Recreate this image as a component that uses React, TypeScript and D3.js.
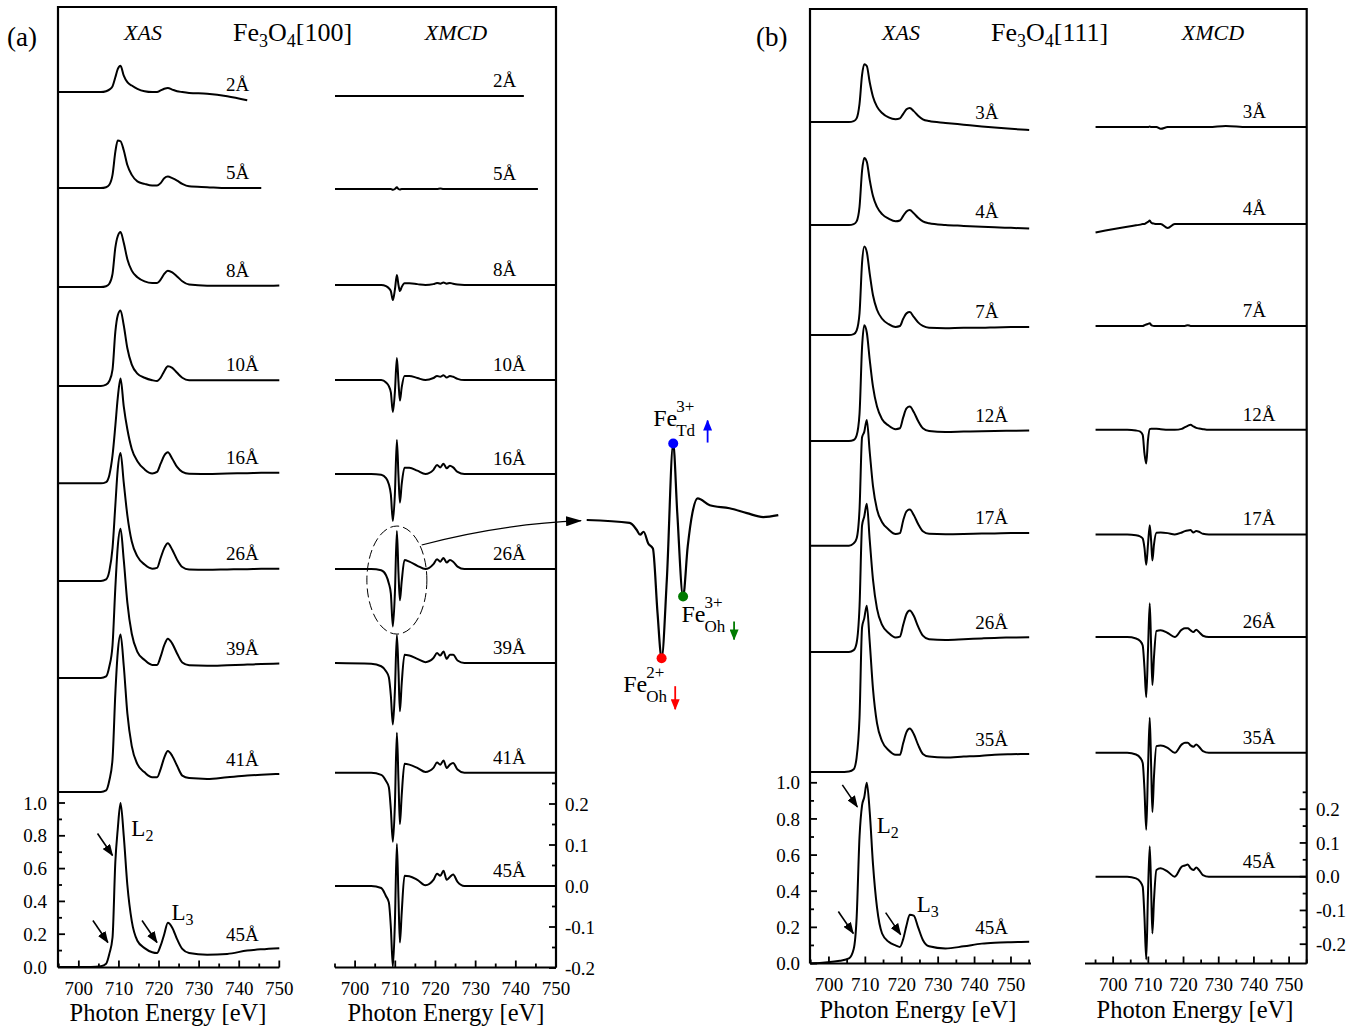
import React from "react";
import * as d3 from "d3";

const FONT = "'Liberation Serif', 'Times New Roman', Times, serif";

// energy grids [eV] shared by the stacked spectra
const xasEnergy = [695, 703, 705.5, 706.8, 707.6, 708.4, 709.1, 709.7, 710.4, 711.2, 712.1, 713.2, 714.6, 716.4, 718.3, 719.5, 720.4, 721.3, 722.2, 723.3, 724.5, 725.8, 727.5, 732, 737, 742, 745.5, 750, 755];
const xmcdEnergy = [695, 704, 706.5, 707.7, 708.4, 708.9, 709.4, 709.9, 710.4, 710.8, 711.15, 711.6, 712.3, 713.5, 715.5, 717.5, 719.5, 720.4, 721.2, 722, 722.8, 723.6, 724.4, 725.5, 727.2, 732, 738, 742, 745.5, 750, 755];

// ---------- panel (a) Fe3O4[100]
const thicknessA = ["2Å", "5Å", "8Å", "10Å", "16Å", "26Å", "39Å", "41Å", "45Å"];
const xasOffsetA = [5.335, 4.75, 4.146, 3.543, 2.949, 2.354, 1.762, 1.067, 0];
const xmcdOffsetA = [1.927, 1.7, 1.466, 1.234, 1.005, 0.773, 0.544, 0.276, 0];

const xasA02 = [0, 0, 0, 0.005, 0.015, 0.035, 0.09, 0.14, 0.16, 0.1, 0.06, 0.04, 0.02, 0.005, 0, 0, 0.01, 0.02, 0.025, 0.015, 0.005, 0, -0.005, -0.01, -0.025, -0.05, null, null, null];
const xasA05 = [0, 0, 0, 0.005, 0.02, 0.08, 0.22, 0.29, 0.285, 0.23, 0.14, 0.08, 0.04, 0.025, 0.015, 0.015, 0.03, 0.06, 0.07, 0.06, 0.045, 0.025, 0.01, 0.005, 0, 0, 0, null, null];
const xasA08 = [0, 0, 0, 0.005, 0.02, 0.08, 0.24, 0.31, 0.335, 0.27, 0.17, 0.1, 0.06, 0.035, 0.025, 0.025, 0.045, 0.08, 0.1, 0.09, 0.065, 0.035, 0.015, 0.008, 0.008, 0.008, 0.008, 0.01, null];
const xasA10 = [0, 0, 0, 0.008, 0.03, 0.1, 0.33, 0.43, 0.46, 0.37, 0.23, 0.13, 0.075, 0.05, 0.035, 0.03, 0.05, 0.09, 0.12, 0.11, 0.08, 0.05, 0.035, 0.035, 0.035, 0.035, 0.035, 0.035, null];
const xasA16 = [0, 0, 0, 0.008, 0.05, 0.17, 0.35, 0.52, 0.64, 0.47, 0.33, 0.21, 0.135, 0.085, 0.06, 0.07, 0.12, 0.17, 0.19, 0.15, 0.1, 0.07, 0.058, 0.057, 0.06, 0.062, 0.064, 0.065, null];
const xasA26 = [0, 0, 0, 0.01, 0.06, 0.2, 0.46, 0.68, 0.78, 0.6, 0.4, 0.24, 0.15, 0.1, 0.075, 0.08, 0.14, 0.2, 0.23, 0.19, 0.13, 0.085, 0.07, 0.068, 0.07, 0.072, 0.074, 0.075, null];
const xasA39 = [0, 0, 0, 0.01, 0.07, 0.2, 0.55, 0.8, 0.91, 0.72, 0.46, 0.27, 0.16, 0.11, 0.08, 0.08, 0.13, 0.2, 0.24, 0.21, 0.15, 0.095, 0.078, 0.075, 0.078, 0.082, 0.085, 0.088, null];
const xasA41 = [0, 0, 0, 0.01, 0.07, 0.2, 0.6, 0.85, 0.96, 0.77, 0.48, 0.28, 0.17, 0.12, 0.09, 0.09, 0.14, 0.21, 0.25, 0.22, 0.16, 0.1, 0.085, 0.08, 0.09, 0.1, 0.105, 0.11, null];
const xasA45 = [0, 0, 0.005, 0.02, 0.08, 0.18, 0.64, 0.84, 1.0, 0.8, 0.5, 0.28, 0.16, 0.115, 0.09, 0.085, 0.13, 0.2, 0.27, 0.24, 0.17, 0.11, 0.085, 0.075, 0.08, 0.1, 0.108, 0.115, null];
const xasA = [xasA02, xasA05, xasA08, xasA10, xasA16, xasA26, xasA39, xasA41, xasA45];

const xmcdA02 = [0, 0, 0, 0, 0, 0, 0, 0, 0, 0, 0, 0, 0, 0, 0, 0, 0, 0, 0, 0, 0, 0, 0, 0, 0, 0, 0, 0, null, null, null];
const xmcdA05 = [0, 0, 0, 0, 0, 0, -0.002, 0, 0.004, 0, -0.001, 0, 0, 0, 0, 0, 0, 0, 0.001, 0, 0, 0, 0, 0, 0, 0, 0, 0, 0, null, null];
const xmcdA08 = [0, 0, 0, -0.003, -0.008, -0.015, -0.037, -0.012, 0.024, 0, -0.015, -0.005, 0.004, 0.004, 0.002, 0, 0.002, 0.005, 0.003, 0.006, 0.003, 0.005, 0.003, 0.001, 0, 0, 0, 0, 0, 0, null];
const xmcdA10 = [0, 0, 0, -0.006, -0.015, -0.03, -0.078, -0.03, 0.054, -0.005, -0.05, -0.018, 0.01, 0.01, 0.005, 0, 0.005, 0.01, 0.008, 0.012, 0.006, 0.01, 0.008, 0.003, 0, 0, 0, 0, 0, 0, null];
const xmcdA16 = [0, 0, -0.002, -0.01, -0.025, -0.05, -0.115, -0.05, 0.083, -0.005, -0.07, -0.025, 0.015, 0.015, 0.008, 0, 0.01, 0.022, 0.016, 0.025, 0.014, 0.02, 0.016, 0.005, 0, 0, 0, 0, 0, 0, null];
const xmcdA26 = [0, 0, -0.003, -0.015, -0.035, -0.06, -0.14, -0.06, 0.093, -0.01, -0.076, -0.03, 0.022, 0.018, 0.008, 0, 0.012, 0.024, 0.018, 0.027, 0.016, 0.022, 0.018, 0.006, 0, 0, 0, 0, 0, 0, null];
const xmcdA39 = [0, -0.002, -0.008, -0.02, -0.035, -0.08, -0.15, -0.07, 0.068, -0.02, -0.118, -0.05, 0.02, 0.018, 0.01, 0.002, 0.012, 0.024, 0.018, 0.028, 0.01, 0.02, 0.02, 0.006, 0, 0, 0, 0, 0, 0, null];
const xmcdA41 = [0, 0, -0.005, -0.02, -0.035, -0.09, -0.168, -0.08, 0.098, -0.02, -0.125, -0.055, 0.022, 0.02, 0.012, 0.002, 0.012, 0.025, 0.02, 0.03, 0.012, 0.02, 0.024, 0.008, 0, 0, 0, 0, 0, 0, null];
const xmcdA45 = [0, 0, -0.005, -0.025, -0.04, -0.1, -0.197, -0.09, 0.103, -0.03, -0.138, -0.065, 0.025, 0.024, 0.015, 0.002, 0.015, 0.03, 0.025, 0.037, 0.015, 0.022, 0.028, 0.01, 0, 0, 0, 0, 0, 0, null];
const xmcdA = [xmcdA02, xmcdA05, xmcdA08, xmcdA10, xmcdA16, xmcdA26, xmcdA39, xmcdA41, xmcdA45];

// ---------- panel (b) Fe3O4[111]
const thicknessB = ["3Å", "4Å", "7Å", "12Å", "17Å", "26Å", "35Å", "45Å"];
const xasOffsetB = [4.657, 4.087, 3.478, 2.892, 2.312, 1.724, 1.06, 0];
const xmcdOffsetB = [2.221, 1.934, 1.632, 1.324, 1.014, 0.71, 0.367, 0];

const xasB03 = [0, 0, 0, 0.005, 0.02, 0.1, 0.26, 0.32, 0.31, 0.22, 0.14, 0.085, 0.05, 0.025, 0.015, 0.02, 0.045, 0.07, 0.078, 0.06, 0.035, 0.015, 0.005, -0.005, -0.015, -0.025, -0.031, -0.038, -0.044];
const xasB04 = [0, 0, 0, 0.005, 0.02, 0.1, 0.3, 0.37, 0.35, 0.25, 0.16, 0.1, 0.06, 0.035, 0.02, 0.025, 0.05, 0.075, 0.083, 0.065, 0.04, 0.02, 0.01, 0, -0.005, -0.01, -0.013, -0.016, -0.02];
const xasB07 = [0, 0, 0, 0.005, 0.025, 0.12, 0.4, 0.49, 0.46, 0.34, 0.22, 0.14, 0.09, 0.06, 0.045, 0.05, 0.09, 0.12, 0.127, 0.1, 0.07, 0.05, 0.04, 0.038, 0.04, 0.04, 0.042, 0.044, 0.045];
const xasB12 = [0, 0, 0, 0.005, 0.03, 0.15, 0.52, 0.64, 0.6, 0.45, 0.3, 0.19, 0.12, 0.085, 0.065, 0.07, 0.13, 0.18, 0.19, 0.16, 0.11, 0.07, 0.055, 0.05, 0.052, 0.054, 0.055, 0.056, 0.058];
const xasB17 = [0, 0, 0, 0.013, 0.04, 0.2, 0.6, 0.63, 0.696, 0.52, 0.33, 0.2, 0.13, 0.09, 0.065, 0.07, 0.14, 0.19, 0.2, 0.17, 0.12, 0.08, 0.066, 0.064, 0.065, 0.067, 0.068, 0.07, 0.07];
const xasB26 = [0, 0, 0, 0.01, 0.05, 0.25, 0.7, 0.75, 0.82, 0.62, 0.4, 0.24, 0.15, 0.105, 0.08, 0.085, 0.15, 0.21, 0.23, 0.2, 0.14, 0.09, 0.07, 0.066, 0.07, 0.075, 0.078, 0.08, 0.082];
const xasB35 = [0, 0, 0.003, 0.015, 0.08, 0.3, 0.8, 0.85, 0.92, 0.72, 0.46, 0.27, 0.17, 0.12, 0.095, 0.095, 0.16, 0.22, 0.24, 0.21, 0.15, 0.1, 0.085, 0.08, 0.085, 0.09, 0.095, 0.098, 0.1];
const xasB45 = [0, 0.015, 0.028, 0.08, 0.25, 0.7, 0.875, 0.92, 1.0, 0.84, 0.55, 0.31, 0.166, 0.12, 0.1, 0.092, 0.135, 0.21, 0.27, 0.265, 0.2, 0.13, 0.095, 0.083, 0.095, 0.11, 0.115, 0.118, 0.12];
const xasB = [xasB03, xasB04, xasB07, xasB12, xasB17, xasB26, xasB35, xasB45];

const xmcdB03 = [0, 0, 0, 0, 0, 0, 0, 0, 0.002, 0, 0, 0, 0, -0.005, 0, 0, 0, 0, 0, 0, 0, 0, 0, 0, 0, 0.003, 0, 0, 0, 0, 0];
const xmcdB04 = [-0.025, -0.008, -0.004, -0.002, 0, 0, 0.003, 0.006, 0.01, 0.004, 0.002, 0.001, 0, 0, -0.012, 0, 0, 0, 0, 0, 0, 0, 0, 0, 0, 0, 0, 0, 0, 0, 0];
const xmcdB07 = [0, 0, 0, 0, 0, 0.002, 0.004, 0.006, 0.008, 0.003, 0.001, 0, 0, 0, 0, 0, 0, 0, 0.002, 0, 0, 0, 0, 0, 0, 0, 0, 0, 0, 0, 0];
const xmcdB12 = [0, 0, -0.002, -0.005, -0.015, -0.07, -0.1, -0.03, 0.002, 0.003, 0.003, 0.003, 0.003, 0.002, 0, 0, 0.003, 0.008, 0.012, 0.015, 0.01, 0.006, 0.004, 0.002, 0, 0, 0, 0, 0, 0, 0];
const xmcdB17 = [0, 0, -0.002, -0.006, -0.012, -0.04, -0.09, -0.03, 0.027, -0.02, -0.077, -0.03, 0.005, 0.006, 0.004, 0, 0.006, 0.01, 0.012, 0.013, 0.006, 0.01, 0.008, 0.002, 0, 0, 0, 0, 0, 0, 0];
const xmcdB26 = [0, 0, -0.004, -0.012, -0.025, -0.09, -0.178, -0.04, 0.1, -0.03, -0.142, -0.06, 0.018, 0.02, 0.012, 0, 0.022, 0.026, 0.026, 0.02, 0.015, 0.022, 0.015, 0.004, 0, 0, 0, 0, 0, 0, 0];
const xmcdB35 = [0, 0, -0.005, -0.015, -0.03, -0.11, -0.228, -0.05, 0.104, -0.04, -0.175, -0.07, 0.02, 0.022, 0.015, 0, 0.025, 0.03, 0.03, 0.022, 0.018, 0.025, 0.018, 0.005, 0, 0, 0, 0, 0, 0, 0];
const xmcdB45 = [0, 0, -0.005, -0.015, -0.03, -0.12, -0.245, -0.05, 0.09, -0.04, -0.168, -0.07, 0.02, 0.025, 0.015, 0, 0.03, 0.033, 0.036, 0.025, 0.02, 0.027, 0.02, 0.005, 0, 0, 0, 0, 0, 0, 0];
const xmcdB = [xmcdB03, xmcdB04, xmcdB07, xmcdB12, xmcdB17, xmcdB26, xmcdB35, xmcdB45];

// ---------- magnified XMCD (26 Å, [100])
const insetEnergy = [703, 706.7, 707.3, 707.6, 707.9, 708.3, 708.7, 709.1, 709.45, 709.9, 710.45, 710.8, 711.3, 711.7, 712.1, 712.55, 713.6, 715.3, 716.8, 718.2, 719.5];
const insetXmcd = [0, -0.003, -0.01, -0.015, -0.012, -0.024, -0.029, -0.095, -0.141, -0.061, 0.078, 0.007, -0.078, -0.027, 0.007, 0.022, 0.015, 0.012, 0.007, 0.003, 0.005];

// ---------- ticks
const energyTicks = [700, 710, 720, 730, 740, 750];
const energyMinor = [695, 705, 715, 725, 735, 745, 755];
const xasTicks = [0, 0.2, 0.4, 0.6, 0.8, 1.0];
const xasMinor = [0.1, 0.3, 0.5, 0.7, 0.9];
const xmcdTicks = [0.2, 0.1, 0, -0.1, -0.2];
const xmcdMinor = [0.25, 0.15, 0.05, -0.05, -0.15];

const BLACK = "#000";

function tracePath(energy, values, offset, x, y) {
  const line = d3
    .line<number>()
    .defined((i) => values[i] !== null)
    .x((i) => x(energy[i]))
    .y((i) => y(values[i] + offset))
    .curve(d3.curveMonotoneX);
  return line(d3.range(energy.length));
}

function valueAt(energy, values, e) {
  const idx = d3.range(energy.length).filter((i) => values[i] !== null);
  const s = d3.scaleLinear().domain(idx.map((i) => energy[i])).range(idx.map((i) => values[i])).clamp(true);
  return s(e);
}

function Stack({ energy, curves, offsets, labels, x, y, labelE }) {
  return (
    <g>
      {curves.map((vals, k) => (
        <path
          key={"c" + k}
          d={tracePath(energy, vals, offsets[k], x, y)}
          fill="none"
          stroke={BLACK}
          strokeWidth={2}
          strokeLinejoin="round"
        />
      ))}
      {labels.map((lab, k) => (
        <text
          key={"l" + k}
          x={x(labelE)}
          y={y(offsets[k] + valueAt(energy, curves[k], labelE + 6)) - 9}
          fontSize={19}
          fontFamily={FONT}
        >
          {lab}
        </text>
      ))}
    </g>
  );
}

function BottomAxis({ x, y0, from, to }) {
  const [d0, d1] = x.domain();
  const inside = (v) => v >= d0 && v <= d1 + 0.01;
  return (
    <g>
      <line x1={from} x2={to} y1={y0} y2={y0} stroke={BLACK} strokeWidth={2.2} />
      {energyTicks.filter(inside).map((v) => (
        <line key={"M" + v} x1={x(v)} x2={x(v)} y1={y0} y2={y0 - 7} stroke={BLACK} strokeWidth={1.8} />
      ))}
      {energyMinor.filter(inside).map((v) => (
        <line key={"m" + v} x1={x(v)} x2={x(v)} y1={y0} y2={y0 - 4} stroke={BLACK} strokeWidth={1.8} />
      ))}
      {energyTicks.filter(inside).map((v) => (
        <text key={"t" + v} x={x(v)} y={y0 + 27} textAnchor="middle" fontSize={19} fontFamily={FONT}>
          {v}
        </text>
      ))}
    </g>
  );
}

function SideTicks({ y, x0, dir, major, minor, labelX, anchor }) {
  return (
    <g>
      {major.map((v) => (
        <line key={"M" + v} x1={x0} x2={x0 + dir * 7} y1={y(v)} y2={y(v)} stroke={BLACK} strokeWidth={1.8} />
      ))}
      {minor.map((v) => (
        <line key={"m" + v} x1={x0} x2={x0 + dir * 4} y1={y(v)} y2={y(v)} stroke={BLACK} strokeWidth={1.8} />
      ))}
      {major.map((v) => (
        <text key={"t" + v} x={labelX} y={y(v)} dy="0.35em" textAnchor={anchor} fontSize={19} fontFamily={FONT}>
          {v.toFixed(1)}
        </text>
      ))}
    </g>
  );
}

function Arrow({ tip, dx, dy, marker, width = 1.6, color = BLACK }) {
  return (
    <line
      x1={tip[0] + dx}
      y1={tip[1] + dy}
      x2={tip[0]}
      y2={tip[1]}
      stroke={color}
      strokeWidth={width}
      markerEnd={`url(#${marker})`}
    />
  );
}

function LLabel({ x, y, sub }) {
  return (
    <text x={x} y={y} fontSize={23} fontFamily={FONT}>
      L
      <tspan fontSize={16} dy={5}>
        {sub}
      </tspan>
    </text>
  );
}

function Title({ x, rest }) {
  return (
    <text x={x} y={41} fontSize={26} fontFamily={FONT}>
      Fe
      <tspan fontSize={18} dy={6}>3</tspan>
      <tspan dy={-6}>O</tspan>
      <tspan fontSize={18} dy={6}>4</tspan>
      <tspan dy={-6}>{rest}</tspan>
    </text>
  );
}

function IonLabel({ x, y, sup, sub }) {
  return (
    <g fontFamily={FONT}>
      <text x={x} y={y} fontSize={24}>Fe</text>
      <text x={x + 23} y={y - 14} fontSize={17}>{sup}</text>
      <text x={x + 23} y={y + 10} fontSize={17}>{sub}</text>
    </g>
  );
}

export default function App() {
  const xA1 = d3.scaleLinear().domain([694.8, 750]).range([58, 279.3]);
  const yA1 = d3.scaleLinear().domain([0, 1]).range([967, 803]);
  const xA2 = d3.scaleLinear().domain([695, 750]).range([335, 556]);
  const yA2 = d3.scaleLinear().domain([0, 0.1]).range([886, 845]);
  const xB1 = d3.scaleLinear().domain([694.8, 755.5]).range([810, 1031]);
  const yB1 = d3.scaleLinear().domain([0, 1]).range([963.5, 782.8]);
  const xB2 = d3.scaleLinear().domain([692, 755]).range([1085, 1306.7]);
  const yB2 = d3.scaleLinear().domain([0, 0.1]).range([876.7, 842.95]);
  const xIn = d3.scaleLinear().domain([703, 719.5]).range([586.7, 778.3]);
  const yIn = d3.scaleLinear().domain([0, 0.1]).range([520, 422]);

  const botA = 967.5;
  const botB = 963.5;
  const dot = (i) => [xIn(insetEnergy[i]), yIn(insetXmcd[i])];
  const red = dot(8);
  const blue = dot(10);
  const green = dot(12);

  const ellCx = xA2(710.4);
  const ellCy = yA2(xmcdOffsetA[5]) + 11;

  return (
    <div style={{ position: "absolute", left: 0, top: 0 }}>
      <svg width={1363} height={1029} style={{ display: "block", background: "#fff" }}>
        <defs>
          <marker id="hk" viewBox="0 0 12 9" refX={11} refY={4.5} markerWidth={12} markerHeight={9} markerUnits="userSpaceOnUse" orient="auto">
            <path d="M0,0 L12,4.5 L0,9 z" fill={BLACK} />
          </marker>
          <marker id="hk2" viewBox="0 0 16 10" refX={15} refY={5} markerWidth={16} markerHeight={10} markerUnits="userSpaceOnUse" orient="auto">
            <path d="M0,0 L16,5 L0,10 z" fill={BLACK} />
          </marker>
          <marker id="hb" viewBox="0 0 11 9" refX={10} refY={4.5} markerWidth={11} markerHeight={9} markerUnits="userSpaceOnUse" orient="auto">
            <path d="M0,0 L11,4.5 L0,9 z" fill="#0000ff" />
          </marker>
          <marker id="hg" viewBox="0 0 11 9" refX={10} refY={4.5} markerWidth={11} markerHeight={9} markerUnits="userSpaceOnUse" orient="auto">
            <path d="M0,0 L11,4.5 L0,9 z" fill="#007a00" />
          </marker>
          <marker id="hr" viewBox="0 0 11 9" refX={10} refY={4.5} markerWidth={11} markerHeight={9} markerUnits="userSpaceOnUse" orient="auto">
            <path d="M0,0 L11,4.5 L0,9 z" fill="#ff0000" />
          </marker>
        </defs>

        {/* ---------------- panel (a) ---------------- */}
        <text x={7} y={46} fontSize={27} fontFamily={FONT}>(a)</text>
        <path d={`M58,${botA} V7 H556 V${botA}`} fill="none" stroke={BLACK} strokeWidth={2.2} />
        <text x={143} y={40} fontSize={22} fontStyle="italic" textAnchor="middle" fontFamily={FONT}>XAS</text>
        <Title x={233} rest="[100]" />
        <text x={456} y={40} fontSize={22} fontStyle="italic" textAnchor="middle" fontFamily={FONT}>XMCD</text>

        <BottomAxis x={xA1} y0={botA} from={58} to={279.3} />
        <BottomAxis x={xA2} y0={botA} from={335} to={556} />
        <SideTicks y={yA1} x0={58} dir={1} major={xasTicks} minor={xasMinor} labelX={47} anchor="end" />
        <SideTicks y={yA2} x0={556} dir={-1} major={xmcdTicks} minor={xmcdMinor} labelX={565} anchor="start" />

        <Stack energy={xasEnergy} curves={xasA} offsets={xasOffsetA} labels={thicknessA} x={xA1} y={yA1} labelE={736.7} />
        <Stack energy={xmcdEnergy} curves={xmcdA} offsets={xmcdOffsetA} labels={thicknessA} x={xA2} y={yA2} labelE={734.3} />

        <Arrow tip={[xA1(708.4), yA1(0.68)]} dx={-15} dy={-22} marker="hk" />
        <Arrow tip={[xA1(707.25), yA1(0.149)]} dx={-15} dy={-22} marker="hk" />
        <Arrow tip={[xA1(719.5), yA1(0.149)]} dx={-15} dy={-22} marker="hk" />
        <LLabel x={xA1(713.1)} y={yA1(0.797)} sub="2" />
        <LLabel x={xA1(723.1)} y={yA1(0.285)} sub="3" />

        <ellipse cx={ellCx} cy={ellCy} rx={30} ry={54} fill="none" stroke={BLACK} strokeWidth={1} strokeDasharray="9 4" />
        <path d={`M421.7,545 Q500,524 581,520.7`} fill="none" stroke={BLACK} strokeWidth={1.2} markerEnd="url(#hk2)" />

        {/* ---------------- inset ---------------- */}
        <path
          d={d3.line<number>().x((i) => xIn(insetEnergy[i])).y((i) => yIn(insetXmcd[i])).curve(d3.curveMonotoneX)(d3.range(insetEnergy.length))}
          fill="none"
          stroke={BLACK}
          strokeWidth={2.2}
          strokeLinejoin="round"
        />
        <circle cx={red[0]} cy={red[1]} r={5} fill="#ff0000" />
        <circle cx={blue[0]} cy={blue[1]} r={5} fill="#0000ff" />
        <circle cx={green[0]} cy={green[1]} r={5} fill="#007a00" />
        <IonLabel x={blue[0] - 20} y={blue[1] - 18} sup="3+" sub="Td" />
        <Arrow tip={[blue[0] + 34.4, blue[1] - 23]} dx={0} dy={22} marker="hb" width={1.8} color="#0000ff" />
        <IonLabel x={green[0] - 1.6} y={green[1] + 25.7} sup="3+" sub="Oh" />
        <Arrow tip={[green[0] + 51, green[1] + 43]} dx={0} dy={-18} marker="hg" width={1.8} color="#007a00" />
        <IonLabel x={red[0] - 38.4} y={red[1] + 33.4} sup="2+" sub="Oh" />
        <Arrow tip={[red[0] + 13.6, red[1] + 51]} dx={0} dy={-23} marker="hr" width={1.8} color="#ff0000" />

        {/* ---------------- panel (b) ---------------- */}
        <text x={756} y={46} fontSize={27} fontFamily={FONT}>(b)</text>
        <path d={`M810,${botB} V9 H1306.7 V${botB}`} fill="none" stroke={BLACK} strokeWidth={2.2} />
        <text x={901} y={40} fontSize={22} fontStyle="italic" textAnchor="middle" fontFamily={FONT}>XAS</text>
        <Title x={991} rest="[111]" />
        <text x={1213} y={40} fontSize={22} fontStyle="italic" textAnchor="middle" fontFamily={FONT}>XMCD</text>

        <BottomAxis x={xB1} y0={botB} from={810} to={1031} />
        <BottomAxis x={xB2} y0={botB} from={1085} to={1306.7} />
        <SideTicks y={yB1} x0={810} dir={1} major={xasTicks} minor={xasMinor} labelX={800} anchor="end" />
        <SideTicks y={yB2} x0={1306.7} dir={-1} major={xmcdTicks} minor={xmcdMinor} labelX={1316} anchor="start" />

        <Stack energy={xasEnergy} curves={xasB} offsets={xasOffsetB} labels={thicknessB} x={xB1} y={yB1} labelE={740.2} />
        <Stack energy={xmcdEnergy} curves={xmcdB} offsets={xmcdOffsetB} labels={thicknessB} x={xB2} y={yB2} labelE={736.8} />

        <Arrow tip={[xB1(707.8), yB1(0.867)]} dx={-15} dy={-22} marker="hk" />
        <Arrow tip={[xB1(706.7), yB1(0.166)]} dx={-15} dy={-22} marker="hk" />
        <Arrow tip={[xB1(719.7), yB1(0.16)]} dx={-15} dy={-22} marker="hk" />
        <LLabel x={xB1(713.1)} y={yB1(0.72)} sub="2" />
        <LLabel x={xB1(724.1)} y={yB1(0.286)} sub="3" />

        {/* axis titles */}
        <text x={168} y={1021} fontSize={24.5} textAnchor="middle" fontFamily={FONT}>Photon Energy [eV]</text>
        <text x={446} y={1021} fontSize={24.5} textAnchor="middle" fontFamily={FONT}>Photon Energy [eV]</text>
        <text x={918} y={1018} fontSize={24.5} textAnchor="middle" fontFamily={FONT}>Photon Energy [eV]</text>
        <text x={1195} y={1018} fontSize={24.5} textAnchor="middle" fontFamily={FONT}>Photon Energy [eV]</text>
      </svg>
    </div>
  );
}
